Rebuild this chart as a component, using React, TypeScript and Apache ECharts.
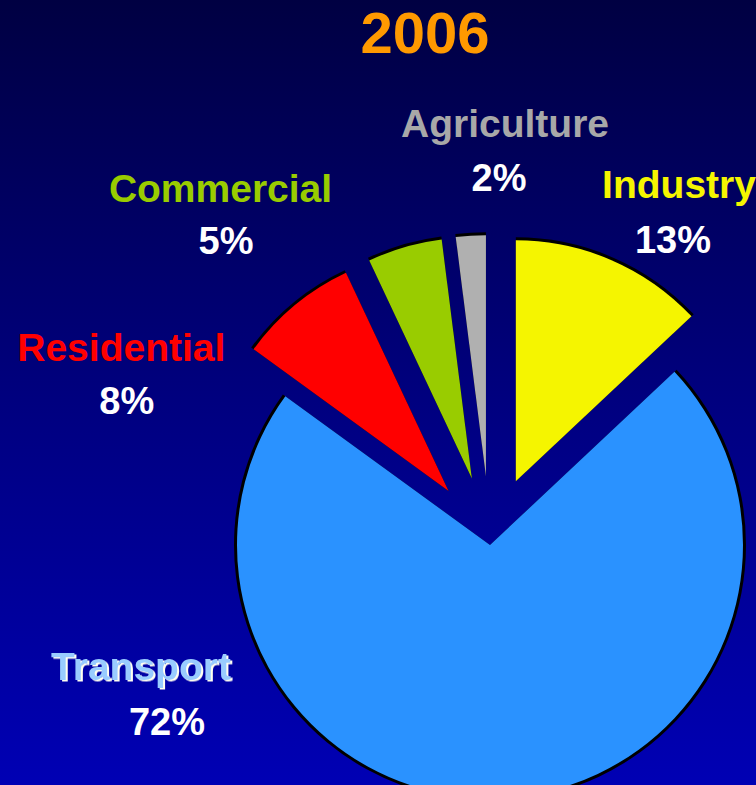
import React, { useEffect, useRef } from 'react';
import * as echarts from 'echarts';

// ---- data ----
const TITLE = '2006';
const categories = ['Industry', 'Transport', 'Residential', 'Commercial', 'Agriculture'];
const values = [13, 72, 8, 5, 2];
const sliceColors = ['#f5f500', '#2a92ff', '#ff0000', '#99cc00', '#b0b0b0'];
const nameColors = ['#f5f500', '#99ccff', '#ff0000', '#99cc00', '#a8a8a8'];
const exploded = [true, false, true, true, true];

// ---- layout (label anchors: name x, name y, percent x, percent y) ----
const LABEL_POS: number[][] = [
  [679, 184.5, 673, 240],
  [141, 666.3, 167, 721.7],
  [121.3, 347.3, 126.7, 401],
  [220.5, 188, 226, 241],
  [505, 123, 499, 178.4],
];
const FONT = '"Liberation Sans", Arial, Helvetica, sans-serif';
const W = 756;
const H = 785;

function makePie(visible: boolean[], center: number[], radius: number, black: boolean, z: number) {
  return {
    type: 'pie',
    center,
    radius,
    startAngle: 90,
    clockwise: true,
    selectedMode: 'multiple',
    selectedOffset: 65,
    silent: true,
    z,
    label: { show: false },
    labelLine: { show: false },
    emphasis: { disabled: true },
    select: { itemStyle: { borderWidth: 0 } },
    itemStyle: { borderWidth: 0 },
    data: categories.map((name, i) => ({
      name,
      value: values[i],
      selected: visible[i] && exploded[i],
      itemStyle: {
        color: visible[i] ? (black ? '#000000' : sliceColors[i]) : 'rgba(0,0,0,0)',
        borderWidth: 0,
      },
    })),
  };
}

export default function App() {
  const ref = useRef<HTMLDivElement>(null);
  useEffect(() => {
    document.body.style.margin = '0';
    if (!ref.current) return;
    const chart = echarts.init(ref.current, undefined, { renderer: 'svg' });

    const onlyTransport = categories.map((_, i) => !exploded[i]);
    const onlySmall = categories.map((_, i) => exploded[i]);

    const labelEls: any[] = [];
    categories.forEach((name, i) => {
      const p = LABEL_POS[i];
      const isTransport = name === 'Transport';
      labelEls.push({
        type: 'text',
        x: p[0],
        y: p[1],
        z: 100,
        style: {
          text: name,
          fill: nameColors[i],
          font: `bold 39px ${FONT}`,
          align: 'center',
          verticalAlign: 'middle',
          ...(isTransport
            ? {
                textShadowColor: '#fffff0',
                textShadowOffsetX: 2,
                textShadowOffsetY: 1.5,
                textShadowBlur: 0.1,
              }
            : {}),
        },
      });
      labelEls.push({
        type: 'text',
        x: p[2],
        y: p[3],
        z: 100,
        style: {
          text: `${values[i]}%`,
          fill: '#ffffff',
          font: `bold 38px ${FONT}`,
          align: 'center',
          verticalAlign: 'middle',
        },
      });
    });

    chart.setOption({
      animation: false,
      graphic: [
        {
          type: 'rect',
          z: -10,
          shape: { x: 0, y: 0, width: W, height: H },
          style: {
            fill: new echarts.graphic.LinearGradient(0, 0, 0, 1, [
              { offset: 0, color: '#000042' },
              { offset: 0.5, color: '#00007e' },
              { offset: 1, color: '#0000b4' },
            ]),
          },
          silent: true,
        },
        {
          type: 'text',
          x: 425,
          y: 32.6,
          z: 100,
          style: {
            text: TITLE,
            fill: '#ff9900',
            font: `bold 58px ${FONT}`,
            align: 'center',
            verticalAlign: 'middle',
          },
        },
        ...labelEls,
      ],
      series: [
        makePie(onlyTransport, [490, 545], 256, true, 2),
        makePie(onlyTransport, [490, 545], 253, false, 3),
        makePie(onlySmall, [490, 541], 244, true, 4),
        makePie(onlySmall, [490, 541], 241, false, 5),
      ],
    });
    return () => chart.dispose();
  }, []);
  return <div ref={ref} style={{ width: W, height: H }} />;
}
